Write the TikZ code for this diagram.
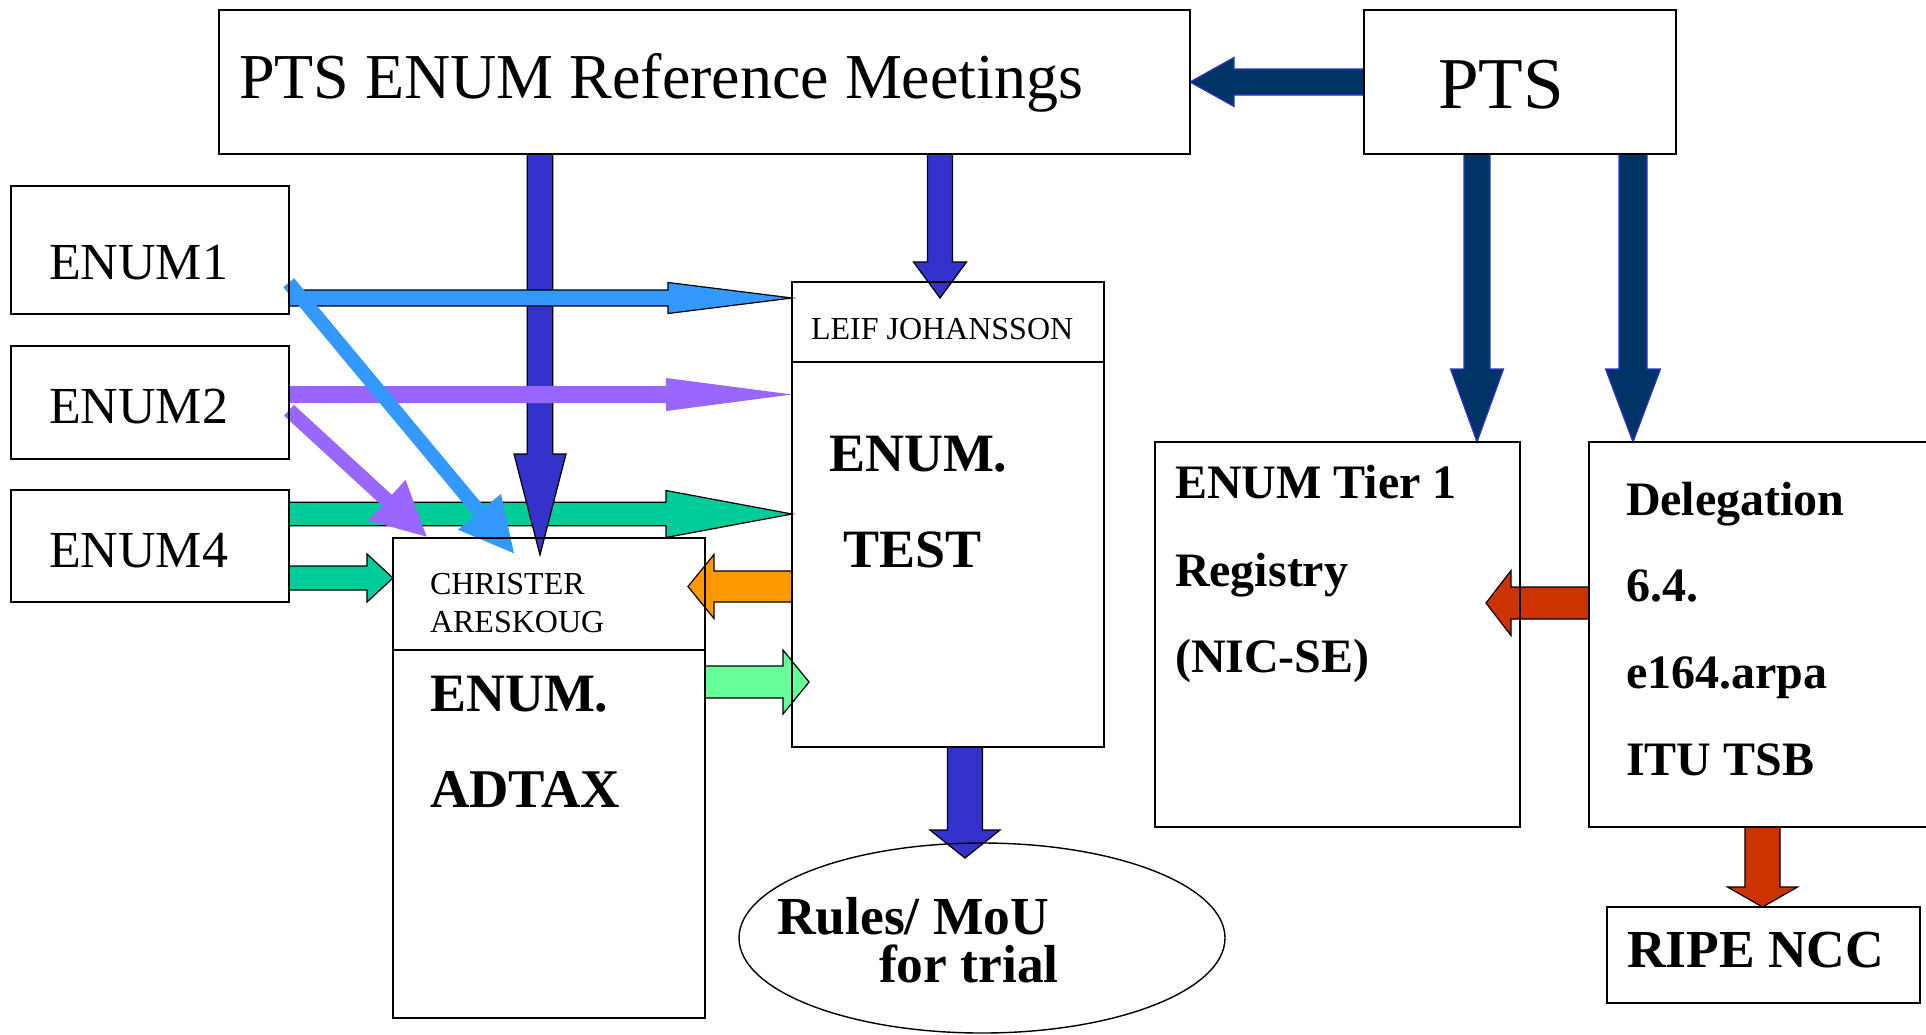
\documentclass[tikz,border=0pt]{standalone}
\usepackage{fontspec}
\setmainfont{Liberation Serif}
\usetikzlibrary{calc,shapes.geometric}
\pgfdeclarelayer{background}
\pgfsetlayers{background,main}
\definecolor{cBlue}{HTML}{3333CC}
\definecolor{cLBlue}{HTML}{3399FF}
\definecolor{cPurple}{HTML}{9966FF}
\definecolor{cGreen}{HTML}{00CC99}
\definecolor{cLGreen}{HTML}{66FF99}
\definecolor{cOrange}{HTML}{FF9900}
\definecolor{cNavy}{HTML}{003366}
\definecolor{cRed}{HTML}{CC3300}
\newcommand\fsz[1]{\fontsize{#1}{#1}\selectfont}
% #1 style, #2 start, #3 tip, #4 shaft half width, #5 head half width, #6 head length
\newcommand\blockarr[6]{%
  \coordinate (bahead) at ($(#3)!#6!(#2)$);
  \path[#1] ($(#2)!#4!90:(#3)$) -- ($(bahead)!#4!90:(#3)$) -- ($(bahead)!#5!90:(#3)$) -- (#3)
     -- ($(bahead)!#5!-90:(#3)$) -- ($(bahead)!#4!-90:(#3)$) -- ($(#2)!#4!-90:(#3)$) -- cycle;}
\begin{document}
\begin{tikzpicture}[x=1pt,y=-1pt,
  box/.style={draw=black, line width=1.6pt, inner sep=0pt, outer sep=0pt, anchor=north west},
  txt/.style={inner sep=0pt, outer sep=0pt, anchor=base west},
  outl/.style={line width=1.2pt, line join=miter, draw=black},
  barrow/.style={outl, fill=cBlue},
  lbarrow/.style={outl, fill=cLBlue},
  lbflat/.style={fill=cLBlue},
  pflat/.style={fill=cPurple},
  garrow/.style={outl, fill=cGreen},
  lgarrow/.style={outl, fill=cLGreen},
  oarrow/.style={outl, fill=cOrange},
  narrow/.style={line width=1.2pt, line join=miter, draw=cBlue, fill=cNavy},
  rarrow/.style={outl, fill=cRed}]
\useasboundingbox (0,0) rectangle (1926,1034);
% boxes
\node[box, minimum width=971pt, minimum height=144pt] (meet) at (219,10) {};
\node[box, minimum width=312pt, minimum height=144pt] (pts) at (1364,10) {};
\node[box, minimum width=278pt, minimum height=128pt] (enum1) at (11,186) {};
\node[box, minimum width=278pt, minimum height=113pt] (enum2) at (11,346) {};
\node[box, minimum width=278pt, minimum height=112pt] (enum4) at (11,490) {};
\node[box, minimum width=312pt, minimum height=465pt] (leif) at (792,282) {};
\node[box, minimum width=312pt, minimum height=480pt] (christer) at (393,538) {};
\node[box, minimum width=365pt, minimum height=385pt] (tier1) at (1155,442) {};
\node[box, minimum width=400pt, minimum height=385pt] (deleg) at (1589,442) {};
\node[box, minimum width=313pt, minimum height=96pt] (ripe) at (1607,907) {};
\node[draw=black, ellipse, line width=1.4pt, inner sep=0pt, minimum width=486pt, minimum height=190pt] (rules) at (982,938) {};
\draw[line width=1.6pt] ($(leif.north west)+(0,80)$) -- ($(leif.north east)+(0,80)$);
\draw[line width=1.6pt] ($(christer.north west)+(0,112)$) -- ($(christer.north east)+(0,112)$);
% texts
\node[txt, font=\fsz{64}] (meetT) at (239,98) {PTS ENUM Reference Meetings};
\node[txt, font=\fsz{73}] (ptsT) at (1438,108) {PTS};
\node[txt, font=\fsz{52}] (e1T) at (49,279) {ENUM1};
\node[txt, font=\fsz{52}] (e2T) at (49,423) {ENUM2};
\node[txt, font=\fsz{52}] (e4T) at (49,567) {ENUM4};
\node[txt, font=\fsz{32}] (leifT) at (811,339) {LEIF JOHANSSON};
\node[txt, font=\bfseries\fsz{54}] (testA) at (829,471) {ENUM.};
\node[txt, font=\bfseries\fsz{54}] (testB) at (843,567) {TEST};
\node[txt, font=\fsz{32}] (chrA) at (430,594) {CHRISTER};
\node[txt, font=\fsz{32}] (chrB) at (430,632) {ARESKOUG};
\node[txt, font=\bfseries\fsz{54}] (adA) at (430,711) {ENUM.};
\node[txt, font=\bfseries\fsz{54.5}] (adB) at (430,807) {ADTAX};
\node[txt, font=\bfseries\fsz{48}] (t1A) at (1175,498) {ENUM Tier 1};
\node[txt, font=\bfseries\fsz{48}] (t1B) at (1175,586) {Registry};
\node[txt, font=\bfseries\fsz{48}] (t1C) at (1175,672) {(NIC-SE)};
\node[txt, font=\bfseries\fsz{48}] (dA) at (1626,515) {Delegation};
\node[txt, font=\bfseries\fsz{48}] (dB) at (1626,601) {6.4.};
\node[txt, font=\bfseries\fsz{48}] (dC) at (1626,688) {e164.arpa};
\node[txt, font=\bfseries\fsz{48}] (dD) at (1626,775) {ITU TSB};
\node[txt, font=\bfseries\fsz{53.5}] (ripeT) at (1627,967) {RIPE NCC};
\node[txt, font=\bfseries\fsz{53.5}] (rA) at (777,934) {Rules/ MoU};
\node[txt, font=\bfseries\fsz{53.5}] (rB) at (879,982) {for trial};
% arrow end points
\coordinate (a1s) at (meet.south -| 540,0);   \coordinate (a1t) at (540,555);
\coordinate (a2s) at (meet.south -| 940,0);   \coordinate (a2t) at (940,298);
\coordinate (a3s) at (enum1.east |- 0,298);   \coordinate (a3t) at (leif.west |- 0,298);
\coordinate (a4s) at (enum2.east |- 0,394.5); \coordinate (a4t) at (leif.west |- 0,394.5);
\coordinate (a5s) at (enum4.east |- 0,514);   \coordinate (a5t) at (leif.west |- 0,514);
\coordinate (a6s) at (enum4.east |- 0,578);   \coordinate (a6t) at (christer.west |- 0,578);
\coordinate (a7s) at (leif.west |- 0,586.5);  \coordinate (a7t) at (688,586.5);
\coordinate (a8s) at (christer.east |- 0,682);\coordinate (a8t) at (809,682);
\coordinate (a9s) at (leif.south -| 965,0);   \coordinate (a9t) at (965,858);
\coordinate (a10s) at (pts.west |- 0,82);     \coordinate (a10t) at (meet.east |- 0,82);
\coordinate (a11s) at (pts.south -| 1477,0);  \coordinate (a11t) at (tier1.north -| 1477,0);
\coordinate (a12s) at (pts.south -| 1633,0);  \coordinate (a12t) at (deleg.north -| 1633,0);
\coordinate (a13s) at (deleg.west |- 0,603);  \coordinate (a13t) at (1486,603);
\coordinate (a14s) at (deleg.south -| 1762.5,0); \coordinate (a14t) at (ripe.north -| 1762.5,0);
\coordinate (a15s) at (288.7,282.7);          \coordinate (a15t) at (514,553.3);
\coordinate (a16s) at (289,410.3);            \coordinate (a16t) at (426.7,536.7);
\begin{pgfonlayer}{background}
\blockarr{garrow}{a5s}{a5t}{11.8pt}{23.5pt}{126pt}
\blockarr{barrow}{a1s}{a1t}{12.8pt}{26pt}{101pt}
\blockarr{barrow}{a2s}{a2t}{12.5pt}{26.5pt}{36pt}
\blockarr{lbarrow}{a3s}{a3t}{8pt}{15.5pt}{124pt}
\blockarr{pflat}{a4s}{a4t}{8.5pt}{16.5pt}{126pt}
\blockarr{garrow}{a6s}{a6t}{12pt}{24pt}{26pt}
\blockarr{oarrow}{a7s}{a7t}{15.5pt}{32pt}{26pt}
\blockarr{lgarrow}{a8s}{a8t}{16pt}{32pt}{26pt}
\blockarr{barrow}{a9s}{a9t}{17.5pt}{35pt}{28pt}
\blockarr{narrow}{a10s}{a10t}{13pt}{24.5pt}{44pt}
\blockarr{narrow}{a11s}{a11t}{13pt}{26.5pt}{73pt}
\blockarr{narrow}{a12s}{a12t}{14pt}{27.5pt}{73pt}
\blockarr{rarrow}{a13s}{a13t}{16pt}{32.5pt}{25pt}
\blockarr{rarrow}{a14s}{a14t}{17.5pt}{35pt}{20pt}
\blockarr{pflat}{a16s}{a16t}{7.3pt}{27.5pt}{54pt}
\blockarr{lbflat}{a15s}{a15t}{7pt}{28pt}{54pt}
\end{pgfonlayer}
\end{tikzpicture}
\end{document}
